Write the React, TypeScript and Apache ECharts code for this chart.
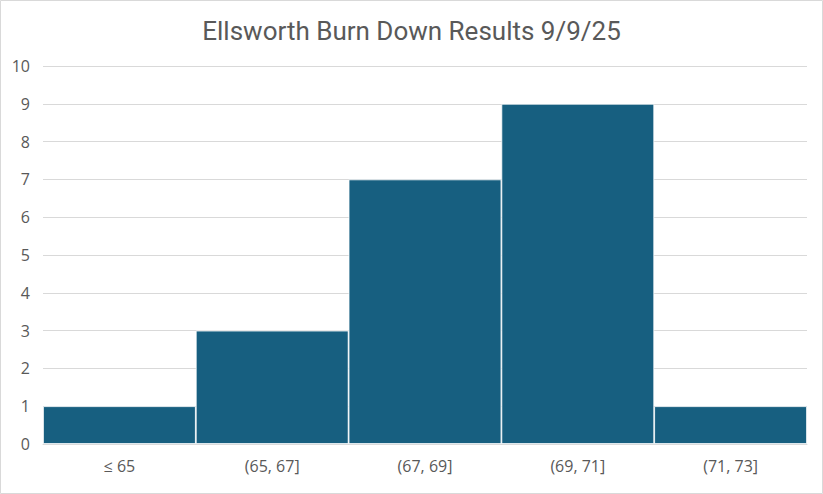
import React, { useEffect, useRef } from "react";
import * as echarts from "echarts";

const categories = ["≤ 65", "(65, 67]", "(67, 69]", "(69, 71]", "(71, 73]"];
const counts = [1, 3, 7, 9, 1];
const titleText = "Ellsworth Burn Down Results 9/9/25";

export default function App() {
  const ref = useRef<HTMLDivElement>(null);
  useEffect(() => {
    if (!ref.current) return;
    const chart = echarts.init(ref.current, undefined, { renderer: "svg" });
    chart.setOption({
      animation: false,
      backgroundColor: "#fff",
      title: {
        text: titleText,
        left: "center",
        top: 13,
        textStyle: {
          fontFamily: "Roboto, sans-serif",
          fontSize: 26,
          fontWeight: "normal",
          color: "#595959",
        },
      },
      graphic: [
        {
          type: "rect",
          shape: { x: 0.5, y: 0.5, width: 822, height: 493 },
          style: { fill: "none", stroke: "#d9d9d9", lineWidth: 1 },
          silent: true,
        },
      ],
      grid: { left: 43, right: 16, top: 66, bottom: 50, containLabel: false },
      xAxis: {
        type: "category",
        data: categories,
        axisLine: { show: true, lineStyle: { color: "#d9d9d9" } },
        axisTick: { show: false },
        axisLabel: {
          color: "#595959",
          fontSize: 16,
          fontFamily: "Open Sans, sans-serif",
          margin: 14,
        },
      },
      yAxis: {
        type: "value",
        min: 0,
        max: 10,
        interval: 1,
        axisLine: { show: false },
        axisTick: { show: false },
        splitLine: { lineStyle: { color: "#d9d9d9" } },
        axisLabel: {
          color: "#595959",
          fontSize: 16,
          fontFamily: "Open Sans, sans-serif",
          margin: 13,
        },
      },
      series: [
        {
          type: "bar",
          data: counts,
          barCategoryGap: "0%",
          itemStyle: { color: "#175F80", borderColor: "#fff", borderWidth: 0.8 },
        },
      ],
    });
    return () => chart.dispose();
  }, []);
  return (
    <div
      ref={ref}
      style={{ position: "absolute", left: 0, top: 0, width: 823, height: 494 }}
    />
  );
}
